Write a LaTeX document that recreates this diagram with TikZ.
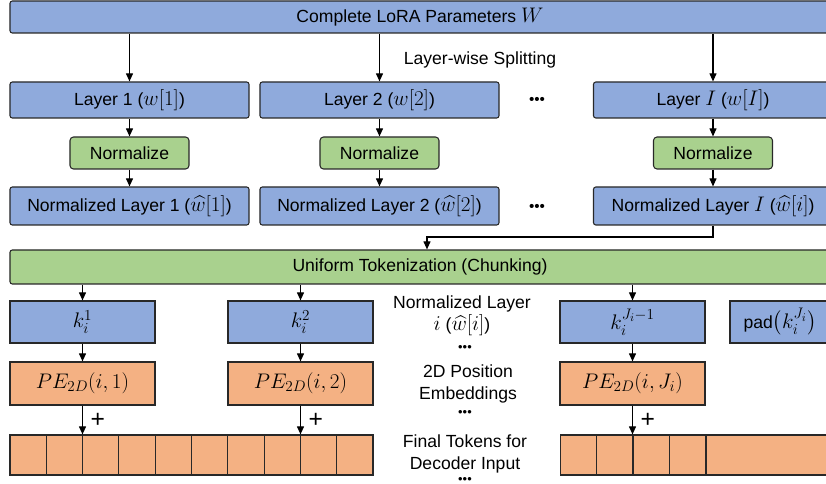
\RequirePackage{fix-cm}
\documentclass[tikz,border=0pt]{standalone}
\usepackage{fontspec}
\setmainfont{Liberation Sans}
\usepackage{amsmath}
\DeclareMathSizes{15}{18}{13}{10}
\usetikzlibrary{arrows.meta,positioning}

\definecolor{boxblue}{RGB}{143,170,220}
\definecolor{boxgreen}{RGB}{169,209,142}
\definecolor{boxorange}{RGB}{244,177,131}
\definecolor{edgegray}{RGB}{40,40,40}

\begin{document}
\begin{tikzpicture}[
    x=0.03cm, y=-0.03cm,
    font=\fontsize{15}{19}\selectfont,
    layernode/.style={draw=edgegray, line width=0.9pt, fill=boxblue, rounded corners=2pt, minimum width=7.17cm, minimum height=1.08cm, inner sep=0pt},
    normnode/.style={draw=edgegray, line width=0.9pt, fill=boxgreen, rounded corners=3pt, minimum width=3.57cm, minimum height=0.96cm, inner sep=0pt},
    chunknode/.style={draw=edgegray, line width=0.9pt, fill=boxblue, minimum width=4.35cm, minimum height=1.26cm, inner sep=0pt},
    penode/.style={draw=edgegray, line width=0.9pt, fill=boxorange, minimum width=4.35cm, minimum height=1.29cm, inner sep=0pt},
    cellnode/.style={draw=edgegray, line width=0.9pt, fill=boxorange, minimum width=1.09cm, minimum height=1.2cm, inner sep=0pt},
    labelnode/.style={align=center, inner sep=0pt},
    dotsnode/.style={font=\fontsize{11}{11}\selectfont, inner sep=0pt},
    arr/.style={line width=1.1pt, draw=black, -{Triangle[length=7pt, width=6pt]}}
]
\clip (0,0) rectangle (826,484);

% Full parameter set
\node[layernode, minimum width=24.6cm, minimum height=0.96cm] (params) at (420,17) {Complete LoRA Parameters $W$};
\node[labelnode] (splitlabel) at (480,60) {Layer-wise Splitting};

% Per-layer branches
\node[layernode] (layer1) at (129.5,100) {Layer 1 ($w[1]$)};
\node[layernode] (layer2) at (379.5,100) {Layer 2 ($w[2]$)};
\node[layernode] (layerI) at (713,100) {Layer $I$ ($w[I]$)};
\node[dotsnode, font=\fontsize{13}{13}\selectfont] (dotsA) at (537,101) {•••};

\node[normnode] (norm1) at (129.5,153) {Normalize};
\node[normnode] (norm2) at (379.5,153) {Normalize};
\node[normnode] (normI) at (713,153) {Normalize};

\node[layernode, minimum height=1.14cm] (nlayer1) at (129.5,206) {Normalized Layer 1 ($\widehat{w}[1]$)};
\node[layernode, minimum height=1.14cm] (nlayer2) at (379.5,206) {Normalized Layer 2 ($\widehat{w}[2]$)};
\node[layernode, minimum height=1.14cm] (nlayerI) at (713,206) {Normalized Layer $I$ ($\widehat{w}[i]$)};
\node[dotsnode, font=\fontsize{13}{13}\selectfont] (dotsB) at (537,208) {•••};

\foreach \n in {1,2,I} {
    \draw[arr] (params.south -| layer\n.north) -- (layer\n.north);
    \draw[arr] (layer\n) -- (norm\n);
    \draw[arr] (norm\n) -- (nlayer\n);
}

% Chunking
\node[layernode, fill=boxgreen, minimum width=24.6cm, minimum height=1.02cm] (chunk) at (420,267) {Uniform Tokenization (Chunking)};
\coordinate (merge) at (427,237);
\draw[arr] (nlayerI.south) |- (merge) -- (merge |- chunk.north);

% Chunks and position embeddings
\node[chunknode] (tok1) at (82.5,322) {$k_i^1$};
\node[chunknode] (tok2) at (300.5,322) {$k_i^2$};
\node[chunknode] (tokJ) at (632.5,322) {$k_i^{J_i-1}$};
\node[chunknode, minimum width=3cm] (tokpad) at (780,322) {pad$\bigl(k_i^{J_i}\bigr)$};

\node[penode] (pe1) at (82.5,383.5) {$PE_{2D}(i,1)$};
\node[penode] (pe2) at (300.5,383.5) {$PE_{2D}(i,2)$};
\node[penode] (peJ) at (632.5,383.5) {$PE_{2D}(i,J_i)$};

% Final token strips
\foreach \c in {0,...,9}
    \node[cellnode] (cellA\c) at ({28.15+36.3*\c},455) {};
\foreach \c in {0,...,3}
    \node[cellnode] (cellB\c) at ({578.25+36.5*\c},455) {};
\node[cellnode, minimum width=3.72cm] (cellBrest) at (768,455) {};

\foreach \n in {1,2,J} {
    \draw[arr] (chunk.south -| tok\n.north) -- (tok\n.north);
    \draw[arr] (tok\n) -- (pe\n);
    \draw[arr] (pe\n.south) -- (pe\n.south |- cellA0.north)
        node[midway, right=3pt, font=\fontsize{21}{21}\selectfont] {+};
}

% Middle captions
\node[labelnode] (chunklabel) at (462,316) {Normalized Layer\\$i$ ($\widehat{w}[i]$)};
\node[dotsnode] (dotsC) at (465,348) {•••};
\node[labelnode] (pelabel) at (468,384) {2D Position\\Embeddings};
\node[dotsnode] (dotsD) at (465,413) {•••};
\node[labelnode] (finallabel) at (465,454) {Final Tokens for\\Decoder Input};
\node[dotsnode] (dotsE) at (465,480) {•••};
\end{tikzpicture}
\end{document}
